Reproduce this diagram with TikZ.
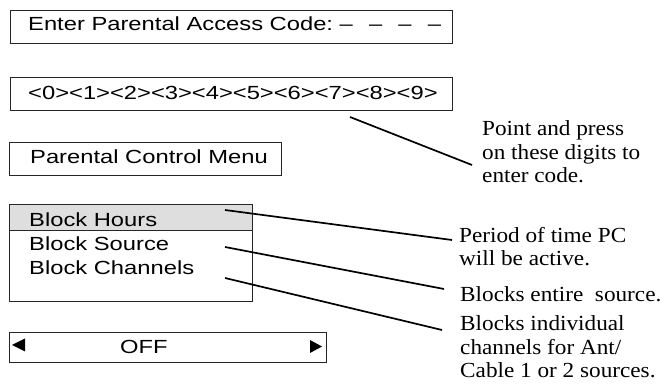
\documentclass[tikz,border=0pt]{standalone}
\usepackage{fontspec}
\newfontfamily\uisans[FakeStretch=1.25]{Liberation Sans}
\newfontfamily\notefont[FakeStretch=1.08]{Liberation Serif}
\usetikzlibrary{calc}
\begin{document}
\begin{tikzpicture}[x=1pt,y=-1pt,
  uibox/.style={draw=black!85, line width=0.8pt, inner sep=0pt, anchor=north west},
  uitext/.style={font=\uisans\fontsize{19}{24}\selectfont, inner sep=0pt, anchor=base west},
  note/.style={font=\notefont\fontsize{21.5}{23.7}\selectfont, inner sep=0pt, anchor=base west, align=left},
  leader/.style={line width=1.7pt, black}]
\useasboundingbox (0,0) rectangle (665,387);
% boxes
\node[uibox, minimum width=442pt, minimum height=33pt] (codebox) at (10,10.5) {};
\node[uitext] (codetext) at (28,31) {Enter Parental Access Code:\ –\hspace{0.85em}–\hspace{0.85em}–\hspace{0.85em}–};
\node[uibox, minimum width=442pt, minimum height=33pt] (digitbox) at (10,77.5) {};
\node[uitext] (digits) at (28,100) {<0><1><2><3><4><5><6><7><8><9>};
\node[uibox, minimum width=272pt, minimum height=33pt] (pcmenu) at (9,142) {};
\node[uitext] (pctext) at (30,164) {Parental Control Menu};
% menu
\fill[black!13] (9,204) rectangle (252,230);
\node[uibox, minimum width=243pt, minimum height=97pt] (menu) at (9,204) {};
\draw[black!85, line width=0.8pt] (9,230) -- (252,230);
\node[uitext] (bhours) at (29,227) {Block Hours};
\node[uitext] (bsource) at (29,251) {Block Source};
\node[uitext] (bchan) at (29,275) {Block Channels};
% off selector
\node[uibox, minimum width=317pt, minimum height=30pt] (offbox) at (9,332) {};
\node[uitext] (offtext) at (120,354) {OFF};
\fill (12,345) -- (25,338.5) -- (25,351.5) -- cycle;
\fill (322,346.5) -- (310,340) -- (310,353) -- cycle;
% notes (base = baseline of last line)
\node[note] (n1) at (482,183) {Point and press\\on these digits to\\enter code.};
\node[note] (n2) at (459,266) {Period of time PC\\will be active.};
\node[note] (n3) at (460,302) {Blocks entire\ \ source.};
\node[note] (n4) at (460,378) {Blocks individual\\channels for Ant/\\Cable 1 or 2 sources.};
% connector ends
\coordinate (a1) at (350,117);
\coordinate (a2) at (472,165);
\coordinate (h1) at (225,210);
\coordinate (h2) at (452,240);
\coordinate (s1) at (225,247);
\coordinate (s2) at (444,289);
\coordinate (c1) at (225,278);
\coordinate (c2) at (442,330);
\draw[leader] (a1) -- (a2);
\draw[leader] (h1) -- (h2);
\draw[leader] (s1) -- (s2);
\draw[leader] (c1) -- (c2);
\end{tikzpicture}
\end{document}
